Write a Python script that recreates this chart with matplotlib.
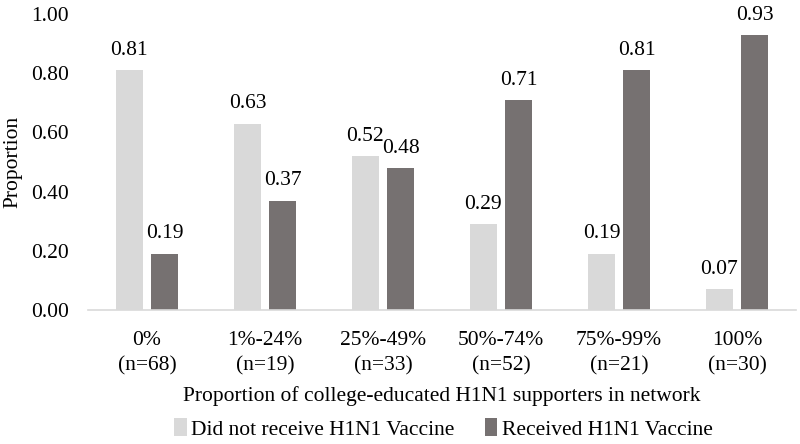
import matplotlib
matplotlib.use("Agg")
import matplotlib.pyplot as plt
import numpy as np

plt.rcParams['font.family'] = ['Liberation Serif', 'DejaVu Serif']

categories = ["0%\n(n=68)", "1%-24%\n(n=19)", "25%-49%\n(n=33)", "50%-74%\n(n=52)", "75%-99%\n(n=21)", "100%\n(n=30)"]
not_received = [0.81, 0.63, 0.52, 0.29, 0.19, 0.07]
received = [0.19, 0.37, 0.48, 0.71, 0.81, 0.93]
series_names = ["Did not receive H1N1 Vaccine", "Received H1N1 Vaccine"]

FS = 15.5
fig = plt.figure(figsize=(8, 4.44), dpi=100)
ax = fig.add_axes([0.11, 0.302, 0.885, 0.666])

x = np.arange(len(categories))
w = 0.23
off = 0.149
b1 = ax.bar(x - off, not_received, w, color='#d9d9d9', label=series_names[0])
b2 = ax.bar(x + off, received, w, color='#767171', label=series_names[1])
for bars, vals in ((b1, not_received), (b2, received)):
    for r, v in zip(bars, vals):
        ax.text(r.get_x() + r.get_width() / 2, v + 0.035, f"{v:.2f}", ha='center', va='bottom', fontsize=FS)

ax.set_xlim(-0.5, len(categories) - 0.5)
ax.set_ylim(0, 1.0)
ax.set_yticks(np.arange(0, 1.01, 0.2))
ax.set_yticklabels([f"{t:.2f}" for t in np.arange(0, 1.01, 0.2)], fontsize=FS)
ax.set_xticks(x)
ax.set_xticklabels(categories, fontsize=FS, linespacing=1.45)
ax.tick_params(axis='x', length=0, pad=15)
ax.tick_params(axis='y', length=0, pad=14)
for s in ['top', 'right', 'left']:
    ax.spines[s].set_visible(False)
ax.spines['bottom'].set_color('#d9d9d9')
ax.spines['bottom'].set_linewidth(1.2)
ax.set_ylabel("Proportion", fontsize=FS)
ax.set_xlabel("Proportion of college-educated H1N1 supporters in network", fontsize=FS, labelpad=8)
ax.yaxis.set_label_coords(-0.093, 0.5)
fig.legend(loc='center', bbox_to_anchor=(0.554, 1 - 429 / 444), ncol=2, frameon=False, fontsize=FS,
           handlelength=0.6, handleheight=0.9, handletextpad=0.2, columnspacing=1.4)
fig.savefig("out.png", dpi=100)
